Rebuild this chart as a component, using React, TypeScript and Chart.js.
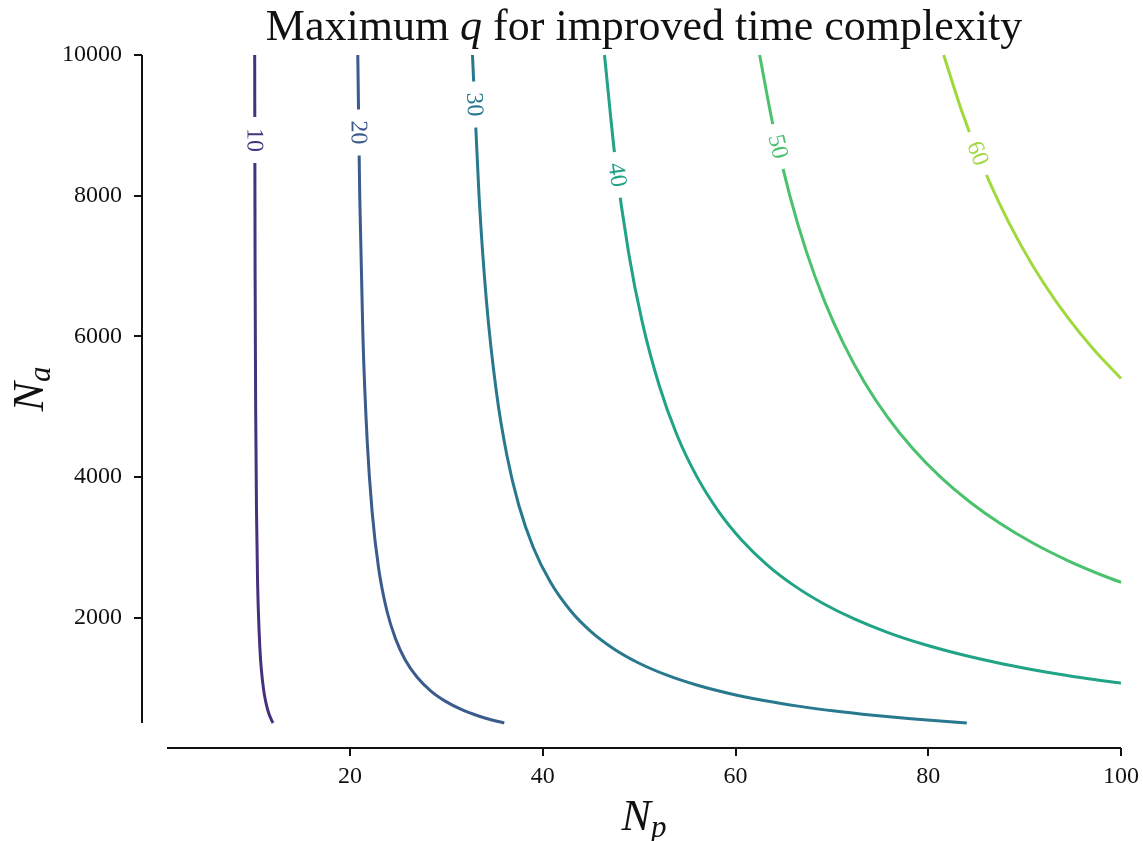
import React, { useEffect, useRef } from "react";
import { Chart, registerables } from "chart.js";
Chart.register(...registerables);

// ---- data (contour lines of the maximum q) ----
const levels = [10, 20, 30, 40, 50, 60];
const levelColors = ["#46317e", "#3b5b8c", "#29798e", "#21a386", "#4ac26d", "#9fd93c"];

const q10Np = [10.1, 10.14, 10.2, 10.29, 10.4, 10.56, 10.71, 10.91, 11.11, 11.33, 11.56, 11.79, 12.0];
const q10Na = [10000, 7000, 5000, 3500, 2500, 1800, 1400, 1100, 900, 750, 640, 560, 500];

const q20Np = [20.8, 21.0, 21.33, 21.78, 22.29, 22.96, 23.81, 24.71, 25.71, 26.96, 28.42, 30.0, 31.59, 33.33, 34.81, 36.0];
const q20Na = [10000, 8000, 6000, 4500, 3500, 2700, 2100, 1700, 1400, 1150, 950, 800, 690, 600, 540, 500];

const q30Np = [32.7, 33.38, 34.15, 35.19, 36.28, 37.5, 39.0, 40.8, 42.86, 45.0, 47.42, 50.0, 52.88, 55.96, 59.35, 62.93, 66.49, 70.3, 74.26, 78.21, 81.92, 84.0];
const q30Na = [10000, 8000, 6500, 5200, 4300, 3600, 3000, 2500, 2100, 1800, 1550, 1350, 1180, 1040, 920, 820, 740, 670, 610, 560, 520, 500];

const q40Np = [46.4, 47.53, 48.89, 50.32, 52.08, 53.91, 56.0, 58.29, 60.65, 63.27, 66.12, 69.09, 72.32, 75.75, 79.51, 83.54, 87.76, 92.03, 96.14, 100.0];
const q40Na = [10000, 8500, 7200, 6200, 5300, 4600, 4000, 3500, 3100, 2750, 2450, 2200, 1980, 1790, 1620, 1470, 1340, 1230, 1140, 1067];

const q50Np = [62.5, 63.89, 65.63, 67.36, 69.23, 71.19, 73.36, 75.77, 78.41, 81.25, 84.25, 87.43, 90.85, 94.64, 98.45, 100.0];
const q50Na = [10000, 9000, 8000, 7200, 6500, 5900, 5350, 4850, 4400, 4000, 3650, 3340, 3060, 2800, 2580, 2500];

const q60Np = [81.6, 83.48, 85.41, 87.34, 89.59, 92.0, 94.56, 97.24, 100.0];
const q60Na = [10000, 9200, 8500, 7900, 7300, 6750, 6250, 5800, 5400];

const curvesNp = [q10Np, q20Np, q30Np, q40Np, q50Np, q60Np];
const curvesNa = [q10Na, q20Na, q30Na, q40Na, q50Na, q60Na];
const labelNa = [8791, 8898, 9296, 8294, 8699, 8599];

const xTicks = [20, 40, 60, 80, 100];
const yTicks = [2000, 4000, 6000, 8000, 10000];
const xMin = 1, xMax = 100, yMin = 500, yMax = 10000;

const SERIF = '"Liberation Serif", "DejaVu Serif", serif';
const INK = "#111111";

function drawRuns(ctx: CanvasRenderingContext2D, runs: { text: string; font: string; dy: number }[], cx: number, baseline: number) {
  const widths = runs.map((r) => {
    ctx.font = r.font;
    return ctx.measureText(r.text).width;
  });
  const total = widths.reduce((a, b) => a + b, 0);
  let x = cx - total / 2;
  ctx.textAlign = "left";
  ctx.textBaseline = "alphabetic";
  runs.forEach((r, i) => {
    ctx.font = r.font;
    ctx.fillText(r.text, x, baseline + r.dy);
    x += widths[i];
  });
}

const decorPlugin = {
  id: "decor",
  afterDraw(chart: any) {
    const ctx: CanvasRenderingContext2D = chart.ctx;
    const xs = chart.scales.x;
    const ys = chart.scales.y;
    const ca = chart.chartArea;
    ctx.save();
    ctx.strokeStyle = INK;
    ctx.lineWidth = 2;
    ctx.lineCap = "butt";
    // y spine (offset outward)
    const sx = ca.left - 25;
    ctx.beginPath();
    ctx.moveTo(sx, ys.getPixelForValue(yMax));
    ctx.lineTo(sx, ys.getPixelForValue(yMin));
    ctx.stroke();
    yTicks.forEach((v) => {
      const p = Math.round(ys.getPixelForValue(v));
      ctx.beginPath();
      ctx.moveTo(sx - 8, p);
      ctx.lineTo(sx, p);
      ctx.stroke();
    });
    // x spine (offset outward)
    const sy = ca.bottom + 25;
    ctx.beginPath();
    ctx.moveTo(xs.getPixelForValue(xMin), sy);
    ctx.lineTo(xs.getPixelForValue(xMax), sy);
    ctx.stroke();
    xTicks.forEach((v) => {
      const p = Math.round(xs.getPixelForValue(v));
      ctx.beginPath();
      ctx.moveTo(p, sy);
      ctx.lineTo(p, sy + 8);
      ctx.stroke();
    });
    ctx.fillStyle = INK;
    const cx = (ca.left + ca.right) / 2;
    // title
    drawRuns(
      ctx,
      [
        { text: "Maximum ", font: `44px ${SERIF}`, dy: 0 },
        { text: "q", font: `italic 44px ${SERIF}`, dy: 0 },
        { text: " for improved time complexity", font: `44px ${SERIF}`, dy: 0 },
      ],
      cx,
      40
    );
    // x label
    drawRuns(
      ctx,
      [
        { text: "N", font: `italic 44px ${SERIF}`, dy: 0 },
        { text: "p", font: `italic 31px ${SERIF}`, dy: 7 },
      ],
      cx,
      830
    );
    // y label
    ctx.save();
    ctx.translate(43, (ca.top + ca.bottom) / 2);
    ctx.rotate(-Math.PI / 2);
    drawRuns(
      ctx,
      [
        { text: "N", font: `italic 44px ${SERIF}`, dy: 0 },
        { text: "a", font: `italic 31px ${SERIF}`, dy: 7 },
      ],
      0,
      0
    );
    ctx.restore();
    ctx.restore();
  },
};

const contourLabelPlugin = {
  id: "contourLabels",
  afterDatasetsDraw(chart: any) {
    const ctx: CanvasRenderingContext2D = chart.ctx;
    const xs = chart.scales.x;
    const ys = chart.scales.y;
    chart.data.datasets.forEach((ds: any, i: number) => {
      const target = labelNa[i];
      const pts = ds.data;
      let k = 0;
      for (k = 0; k < pts.length - 2; k++) {
        if (pts[k].y >= target && pts[k + 1].y <= target) break;
      }
      const a = pts[k];
      const b = pts[k + 1];
      const t = (a.y - target) / (a.y - b.y);
      const xv = a.x + t * (b.x - a.x);
      const px = xs.getPixelForValue(xv);
      const py = ys.getPixelForValue(target);
      const ang = Math.atan2(
        ys.getPixelForValue(b.y) - ys.getPixelForValue(a.y),
        xs.getPixelForValue(b.x) - xs.getPixelForValue(a.x)
      );
      const text = String(levels[i]);
      ctx.save();
      ctx.translate(px, py);
      ctx.rotate(ang);
      ctx.font = `24px ${SERIF}`;
      const w = ctx.measureText(text).width;
      ctx.fillStyle = "#ffffff";
      ctx.fillRect(-w / 2 - 11, -6, w + 22, 12);
      ctx.fillStyle = levelColors[i];
      ctx.textAlign = "center";
      ctx.textBaseline = "middle";
      ctx.fillText(text, 0, 1);
      ctx.restore();
    });
  },
};

export default function App() {
  const ref = useRef<HTMLCanvasElement | null>(null);
  useEffect(() => {
    if (!ref.current) return;
    const datasets = curvesNp.map((npArr, i) => ({
      label: String(levels[i]),
      data: npArr.map((x, j) => ({ x, y: curvesNa[i][j] })),
      borderColor: levelColors[i],
      backgroundColor: levelColors[i],
      borderWidth: 3,
      pointRadius: 0,
      cubicInterpolationMode: "monotone" as const,
      fill: false,
      clip: false as any,
    }));
    const chart = new Chart(ref.current, {
      type: "line",
      data: { datasets },
      plugins: [contourLabelPlugin, decorPlugin],
      options: {
        animation: false,
        responsive: false,
        devicePixelRatio: 1,
        layout: { padding: { top: 55, right: 22, left: 0, bottom: 0 } },
        plugins: { legend: { display: false }, tooltip: { enabled: false }, title: { display: false } },
        scales: {
          x: {
            type: "linear",
            min: xMin,
            max: xMax,
            grid: { display: true, drawOnChartArea: false, drawTicks: true, tickLength: 36, tickColor: "rgba(0,0,0,0)" },
            border: { display: false },
            afterBuildTicks: (s: any) => {
              s.ticks = xTicks.map((v) => ({ value: v }));
            },
            afterFit: (s: any) => {
              s.height = 118;
            },
            ticks: {
              autoSkip: false,
              maxRotation: 0,
              padding: 3,
              color: INK,
              font: { family: SERIF, size: 24 },
              callback: (v: any) => String(v),
            },
          },
          y: {
            type: "linear",
            min: yMin,
            max: yMax,
            grid: { display: true, drawOnChartArea: false, drawTicks: true, tickLength: 42, tickColor: "rgba(0,0,0,0)" },
            border: { display: false },
            afterBuildTicks: (s: any) => {
              s.ticks = yTicks.map((v) => ({ value: v }));
            },
            afterFit: (s: any) => {
              s.width = 167;
            },
            ticks: {
              autoSkip: false,
              padding: 3,
              color: INK,
              font: { family: SERIF, size: 24 },
              callback: (v: any) => String(v),
            },
          },
        },
      },
    });
    return () => chart.destroy();
  }, []);
  return (
    <div style={{ position: "fixed", left: 0, top: 0, width: 1143, height: 841, background: "#fff" }}>
      <canvas ref={ref} width={1143} height={841} style={{ display: "block" }} />
    </div>
  );
}
